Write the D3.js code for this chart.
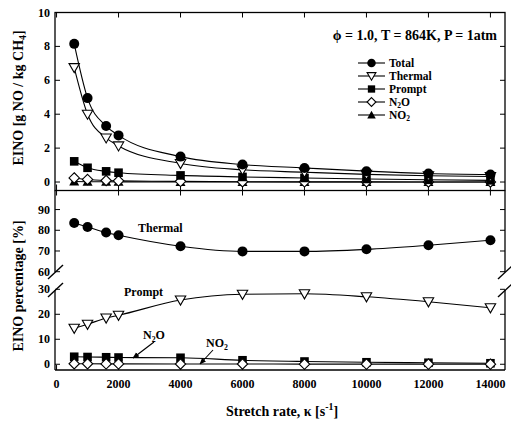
<!DOCTYPE html>
<html><head><meta charset="utf-8">
<script src="https://cdn.jsdelivr.net/npm/d3@7"></script>
<style>
body{margin:0;background:#fff;}
text{font-family:"Liberation Serif","Times New Roman",serif;font-weight:bold;fill:#000;}
</style></head>
<body><svg id="c" width="511" height="422"></svg>
<script>
// ---- data ----
const stretch = [570, 1000, 1600, 2000, 4000, 6000, 8000, 10000, 12000, 14000];
const einoTotal   = [8.15, 4.95, 3.3, 2.75, 1.5, 1.03, 0.83, 0.64, 0.5, 0.44];
const einoThermal = [6.75, 4.0, 2.6, 2.13, 1.09, 0.72, 0.58, 0.45, 0.37, 0.33];
const einoPrompt  = [1.22, 0.84, 0.63, 0.55, 0.39, 0.30, 0.24, 0.18, 0.13, 0.10];
const einoN2O     = [0.24, 0.15, 0.09, 0.07, 0.04, 0.02, 0.01, 0.008, 0.005, 0.003];
const einoNO2     = [0.03, 0.02, 0.015, 0.01, 0.005, 0.003, 0.002, 0.001, 0.001, 0.001];
const pctThermal  = [83.5, 81.6, 78.9, 77.6, 72.3, 69.8, 69.8, 70.8, 72.8, 75.2];
const pctPrompt   = [14.4, 16.0, 18.5, 19.6, 25.7, 28.0, 28.2, 27.0, 25.0, 22.6];
const pctN2O      = [3.0, 2.9, 2.8, 2.7, 2.6, 1.6, 1.1, 0.8, 0.6, 0.4];
const pctNO2      = [0.2, 0.2, 0.15, 0.15, 0.1, 0.1, 0.05, 0.05, 0.05, 0.05];
const xTicks = [0, 2000, 4000, 6000, 8000, 10000, 12000, 14000];
const yTopTicks = [0, 2, 4, 6, 8, 10];
const yUpperTicks = [60, 70, 80, 90];
const yLowerTicks = [0, 10, 20, 30];

const svg = d3.select("#c");
const L = 55, R = 505, T1 = 12.5, B1 = 190.5, B2 = 370;
const x = d3.scaleLinear().domain([-50, 14470]).range([L, R]);
const yTop = d3.scaleLinear().domain([-0.5, 10]).range([B1, T1]);
const yUp = d3.scaleLinear().domain([60, 99.2]).range([271.7, B1]);
const yLo = d3.scaleLinear().domain([-2.3, 30]).range([B2, 289.3]);

const curve = d3.curveMonotoneX;
function drawLine(vals, ys, w) {
  const data = stretch.map((s, i) => [s, vals[i]]);
  svg.append("path").datum(data)
    .attr("d", d3.line().x(d => x(d[0])).y(d => ys(d[1])).curve(curve))
    .attr("fill", "none").attr("stroke", "#000").attr("stroke-width", w || 1.1);
}
function marker(g, type, cx, cy, k) {
  k = k || 1;
  if (type === "circle") g.append("circle").attr("cx", cx).attr("cy", cy).attr("r", 5 * k).attr("fill", "#000");
  else if (type === "square") g.append("rect").attr("x", cx - 4.3 * k).attr("y", cy - 4.3 * k).attr("width", 8.6 * k).attr("height", 8.6 * k).attr("fill", "#000");
  else if (type === "tri") g.append("path").attr("d", `M${cx-5*k},${cy+4*k} L${cx+5*k},${cy+4*k} L${cx},${cy-5*k} Z`).attr("fill", "#000");
  else if (type === "dtri") g.append("path").attr("d", `M${cx-5.2*k},${cy-4*k} L${cx+5.2*k},${cy-4*k} L${cx},${cy+5*k} Z`).attr("fill", "#fff").attr("stroke", "#000").attr("stroke-width", 1.1);
  else if (type === "diamond") g.append("path").attr("d", `M${cx},${cy-5.2*k} L${cx+5.2*k},${cy} L${cx},${cy+5.2*k} L${cx-5.2*k},${cy} Z`).attr("fill", "#fff").attr("stroke", "#000").attr("stroke-width", 1.1);
}
function drawMarkers(vals, ys, type) {
  const g = svg.append("g");
  stretch.forEach((s, i) => marker(g, type, x(s), ys(vals[i])));
}

// ---- frames ----
svg.append("rect").attr("x", L).attr("y", T1).attr("width", R - L).attr("height", B1 - T1)
  .attr("fill", "none").attr("stroke", "#000").attr("stroke-width", 1.3);
const gapTop = 272, gapBot = 290;
const fr = svg.append("g").attr("stroke", "#000").attr("stroke-width", 1.3).attr("fill", "none");
fr.append("line").attr("x1", L).attr("x2", R).attr("y1", B2).attr("y2", B2);
fr.append("line").attr("x1", L).attr("x2", L).attr("y1", B1).attr("y2", gapTop);
fr.append("line").attr("x1", L).attr("x2", L).attr("y1", gapBot).attr("y2", B2);
fr.append("line").attr("x1", R).attr("x2", R).attr("y1", B1).attr("y2", gapTop);
fr.append("line").attr("x1", R).attr("x2", R).attr("y1", gapBot).attr("y2", B2);
[[L, gapTop], [L, gapBot], [R, gapTop], [R, gapBot]].forEach(([px, py]) => {
  fr.append("line").attr("x1", px - 7).attr("y1", py + 7).attr("x2", px + 8).attr("y2", py - 7).attr("stroke-width", 1.4);
});

// ---- ticks ----
const tk = svg.append("g").attr("stroke", "#000").attr("stroke-width", 1);
xTicks.forEach(v => {
  const px = x(v);
  tk.append("line").attr("x1", px).attr("x2", px).attr("y1", T1).attr("y2", T1 + 5);
  tk.append("line").attr("x1", px).attr("x2", px).attr("y1", B1).attr("y2", B1 - 6);
  tk.append("line").attr("x1", px).attr("x2", px).attr("y1", B1).attr("y2", B1 + 5);
  tk.append("line").attr("x1", px).attr("x2", px).attr("y1", B2).attr("y2", B2 - 5);
});
function yTicksFor(vals, ys) {
  vals.forEach(v => {
    tk.append("line").attr("x1", L).attr("x2", L + 5).attr("y1", ys(v)).attr("y2", ys(v));
    tk.append("line").attr("x1", R).attr("x2", R - 5).attr("y1", ys(v)).attr("y2", ys(v));
  });
}
yTicksFor(yTopTicks, yTop); yTicksFor(yUpperTicks, yUp); yTicksFor(yLowerTicks, yLo);

const lab = svg.append("g").attr("font-size", 12);
xTicks.forEach(v => lab.append("text").attr("x", x(v)).attr("y", 388).attr("text-anchor", "middle").text(v));
yTopTicks.forEach(v => lab.append("text").attr("x", 50).attr("y", yTop(v) + 4).attr("text-anchor", "end").text(v));
yUpperTicks.forEach(v => lab.append("text").attr("x", 50).attr("y", yUp(v) + 4).attr("text-anchor", "end").text(v));
yLowerTicks.forEach(v => lab.append("text").attr("x", 50).attr("y", yLo(v) + 4).attr("text-anchor", "end").text(v));

// ---- top panel series ----
drawLine(einoTotal, yTop); drawLine(einoThermal, yTop); drawLine(einoPrompt, yTop);
drawLine(einoN2O, yTop); drawLine(einoNO2, yTop);
drawMarkers(einoNO2, yTop, "tri");
drawMarkers(einoN2O, yTop, "diamond");
drawMarkers(einoPrompt, yTop, "square");
drawMarkers(einoThermal, yTop, "dtri");
drawMarkers(einoTotal, yTop, "circle");

// ---- bottom panel series ----
drawLine(pctThermal, yUp); drawLine(pctPrompt, yLo); drawLine(pctN2O, yLo); drawLine(pctNO2, yLo);
drawMarkers(pctThermal, yUp, "circle");
drawMarkers(pctPrompt, yLo, "dtri");
drawMarkers(pctN2O, yLo, "square");
drawMarkers(pctNO2, yLo, "diamond");

// ---- title & legend ----
svg.append("text").attr("x", 497).attr("y", 40).attr("text-anchor", "end").attr("font-size", 14)
  .text("\u03D5 = 1.0, T = 864K, P = 1atm");
const legItems = [["Total", "circle"], ["Thermal", "dtri"], ["Prompt", "square"], ["N2O", "diamond"], ["NO2", "tri"]];
function subText(sel, t, d) {
  d = d || 3;
  if (t === "N2O") { sel.append("tspan").text("N"); sel.append("tspan").attr("font-size", "0.65em").attr("dy", d).text("2"); sel.append("tspan").attr("dy", -d).text("O"); }
  else if (t === "NO2") { sel.append("tspan").text("NO"); sel.append("tspan").attr("font-size", "0.65em").attr("dy", d).text("2"); }
  else sel.text(t);
}
legItems.forEach(([name, type], i) => {
  const cy = 63 + i * 13;
  svg.append("line").attr("x1", 358).attr("x2", 385).attr("y1", cy).attr("y2", cy).attr("stroke", "#000").attr("stroke-width", 1.1);
  marker(svg.append("g"), type, 371.5, cy, 0.85);
  const t = svg.append("text").attr("x", 389).attr("y", cy + 4).attr("font-size", 11.5);
  subText(t, name, 1.5);
});

// ---- annotations ----
svg.append("text").attr("x", 138).attr("y", 232).attr("font-size", 12).text("Thermal");
svg.append("text").attr("x", 124).attr("y", 296).attr("font-size", 12).text("Prompt");
subText(svg.append("text").attr("x", 143).attr("y", 339).attr("font-size", 12), "N2O");
subText(svg.append("text").attr("x", 206).attr("y", 347).attr("font-size", 12), "NO2");
const defs = svg.append("defs");
defs.append("marker").attr("id", "ah").attr("viewBox", "0 0 10 10").attr("refX", 9).attr("refY", 5)
  .attr("markerWidth", 6).attr("markerHeight", 6).attr("orient", "auto")
  .append("path").attr("d", "M0,1 L10,5 L0,9 Z").attr("fill", "#000");
svg.append("line").attr("x1", 154).attr("y1", 342).attr("x2", 133).attr("y2", 358)
  .attr("stroke", "#000").attr("stroke-width", 1.1).attr("marker-end", "url(#ah)");
svg.append("line").attr("x1", 213).attr("y1", 350).attr("x2", 200).attr("y2", 364)
  .attr("stroke", "#000").attr("stroke-width", 1.1).attr("marker-end", "url(#ah)");

// ---- axis titles ----
const yt1 = svg.append("text").attr("transform", "translate(23,98) rotate(-90)").attr("text-anchor", "middle").attr("font-size", 14);
yt1.append("tspan").text("EINO [g NO / kg CH");
yt1.append("tspan").attr("font-size", "0.7em").attr("dy", 3).text("4");
yt1.append("tspan").attr("dy", -3).text("]");
svg.append("text").attr("transform", "translate(23,286) rotate(-90)").attr("text-anchor", "middle").attr("font-size", 14)
  .text("EINO percentage [%]");
const xt = svg.append("text").attr("x", 282).attr("y", 416).attr("text-anchor", "middle").attr("font-size", 14);
xt.append("tspan").text("Stretch rate, \u03BA [s");
xt.append("tspan").attr("font-size", "0.7em").attr("dy", -6).text("-1");
xt.append("tspan").attr("dy", 6).text("]");
</script></body></html>
